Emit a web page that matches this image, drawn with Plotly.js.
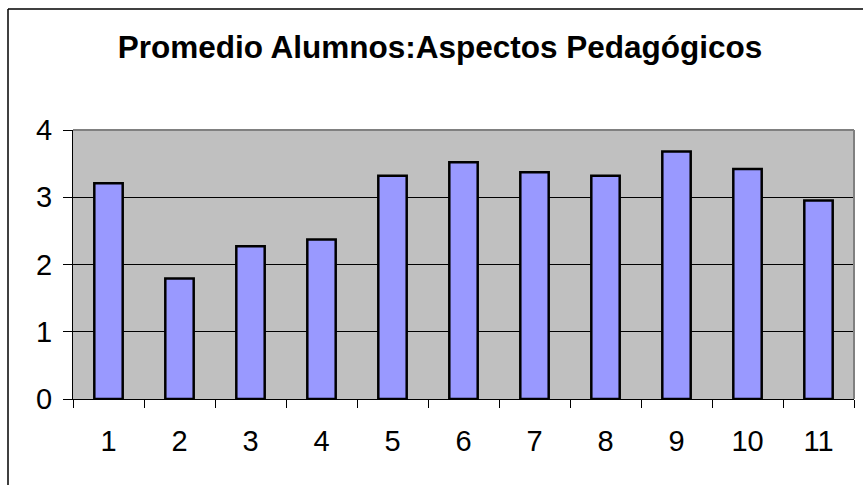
<!DOCTYPE html>
<html>
<head>
<meta charset="utf-8">
<script src="https://cdn.plot.ly/plotly-3.0.1.min.js"></script>
<style>html,body{margin:0;padding:0;background:#fff;}#chart{width:863px;height:485px;}</style>
</head>
<body>
<div id="chart"></div>
<script>
const categories = ["1","2","3","4","5","6","7","8","9","10","11"];
const values = [3.21, 1.79, 2.27, 2.37, 3.32, 3.52, 3.37, 3.32, 3.68, 3.42, 2.95];
const titleText = "Promedio Alumnos:Aspectos Pedagógicos";

const font = "Arial, 'Liberation Sans', sans-serif";
const data = [{
  type: "bar",
  x: categories,
  y: values,
  width: 0.4,
  marker: {color: "#9999FF", line: {color: "#000000", width: 2.5}},
  hoverinfo: "x+y"
}];
const layout = {
  width: 863, height: 485,
  margin: {l: 73, r: 9, t: 130, b: 86, pad: 0},
  paper_bgcolor: "#ffffff",
  plot_bgcolor: "#C0C0C0",
  showlegend: false,
  title: {text: "<b>" + titleText + "</b>", font: {family: font, size: 31.5, color: "#000"},
          x: 440/863, xanchor: "center", xref: "container", y: 1 - 46.5/485, yanchor: "middle", yref: "container"},
  xaxis: {type: "category", tickson: "boundaries", ticks: "outside", ticklen: 8, tickcolor: "#000", tickwidth: 1,
          showgrid: false, showline: true, linecolor: "#000", linewidth: 1, zeroline: false,
          tickfont: {family: font, size: 29, color: "#000"}, ticklabelstandoff: 16},
  yaxis: {range: [0, 4], dtick: 1, tick0: 0, ticks: "outside", ticklen: 9, tickcolor: "#000", tickwidth: 1,
          showgrid: true, gridcolor: "#000", gridwidth: 1, showline: true, linecolor: "#000", linewidth: 1,
          zeroline: false, tickfont: {family: font, size: 29, color: "#000"}, ticklabelstandoff: 5},
  shapes: [
    {type: "line", xref: "paper", yref: "paper", x0: 0, x1: 1, y0: 1, y1: 1, line: {color: "#808080", width: 2}},
    {type: "line", xref: "paper", yref: "paper", x0: 1, x1: 1, y0: 0, y1: 1, line: {color: "#808080", width: 2}},
    {type: "line", xref: "paper", yref: "paper", x0: (8-73)/781, x1: (8-73)/781, y0: -0.5, y1: 1 + (130-9)/269, line: {color: "#000", width: 1.5}},
    {type: "line", xref: "paper", yref: "paper", x0: (8-73)/781, x1: 1.05, y0: 1 + (130-9)/269, y1: 1 + (130-9)/269, line: {color: "#000", width: 1.5}}
  ]
};
Plotly.newPlot("chart", data, layout, {displayModeBar: false, staticPlot: true});
</script>
</body>
</html>
